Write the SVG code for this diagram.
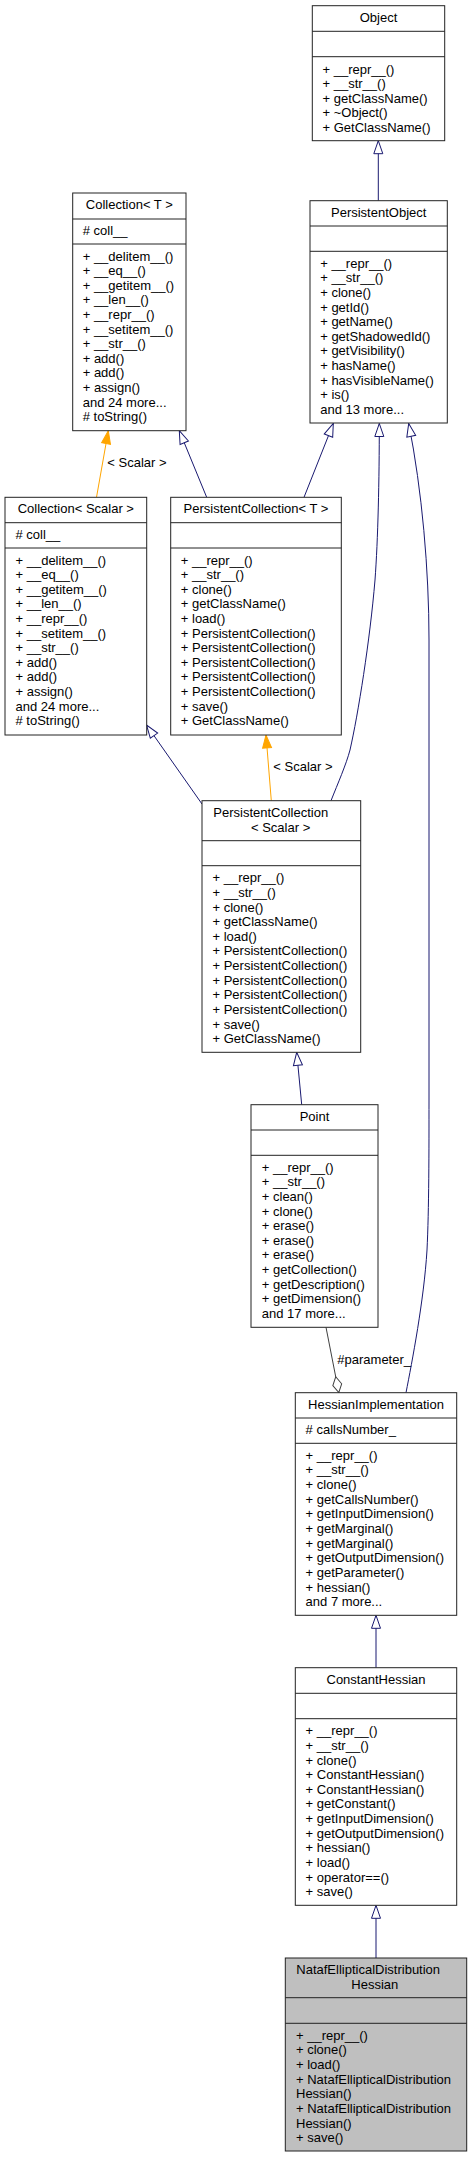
<svg xmlns="http://www.w3.org/2000/svg" width="472" height="2157" viewBox="0 0 472 2157">
<style>
.box{fill:#fff;stroke:#222;stroke-width:1}
.hl{fill:#bfbfbf}
.sep{stroke:#222;stroke-width:1}
text{font-family:"Liberation Sans",Arial,Helvetica,sans-serif;font-size:13px;fill:#000}
.c{text-anchor:middle}
.inh{stroke:#191970;stroke-width:1;fill:none}
.tpl{stroke:#ffa500;stroke-width:1;fill:none}
.agg{stroke:#404040;stroke-width:1;fill:none}
</style>
<defs>
<marker id="mInh" viewBox="0 0 13 10" refX="13" refY="5" markerWidth="13" markerHeight="10" markerUnits="userSpaceOnUse" orient="auto" overflow="visible">
<path d="M0,0.5 L13,5 L0,9.5 Z" fill="#fff" stroke="#191970" stroke-width="1"/>
</marker>
<marker id="mTpl" viewBox="0 0 13 10" refX="13" refY="5" markerWidth="13" markerHeight="10" markerUnits="userSpaceOnUse" orient="auto" overflow="visible">
<path d="M0,0.5 L13,5 L0,9.5 Z" fill="#ffa500" stroke="#ffa500" stroke-width="1"/>
</marker>
<marker id="mAgg" viewBox="0 0 16 10" refX="16" refY="5" markerWidth="16" markerHeight="10" markerUnits="userSpaceOnUse" orient="auto" overflow="visible">
<path d="M0,5 L8,0.5 L16,5 L8,9.5 Z" fill="#fff" stroke="#404040" stroke-width="1"/>
</marker>
</defs>

<g id="connectors">
<path class="inh" d="M378.3,200.7 L378.3,140.7" marker-end="url(#mInh)"/>
<path class="tpl" d="M96.5,497.3 L108.3,430.7" marker-end="url(#mTpl)"/>
<text x="107.3" y="467.2">&lt; Scalar &gt;</text>
<path class="inh" d="M206.7,497.3 L179.3,430.7" marker-end="url(#mInh)"/>
<path class="inh" d="M304,497.3 L333.3,423.5" marker-end="url(#mInh)"/>
<path class="inh" d="M331,800.7 C338,783 346,765 350,750 C358,715 370,640 375,580 C378,540 379.3,480 379.3,423.5" marker-end="url(#mInh)"/>
<path class="inh" d="M406,1392.7 C412,1362 424,1300 427,1250 C429,1210 429,1150 429,1100 L429,640 C429,570 422,490 408.7,423.5" marker-end="url(#mInh)"/>
<path class="inh" d="M202,804 L146.5,725" marker-end="url(#mInh)"/>
<path class="tpl" d="M271.3,800.7 L266,735" marker-end="url(#mTpl)"/>
<text x="273.3" y="771.2">&lt; Scalar &gt;</text>
<path class="inh" d="M301.7,1104.7 L296.7,1052.3" marker-end="url(#mInh)"/>
<path class="agg" d="M326,1327.3 L338.8,1392.5" marker-end="url(#mAgg)"/>
<text x="337.3" y="1363.8">#parameter_</text>
<path class="inh" d="M376,1667.7 L376,1615.3" marker-end="url(#mInh)"/>
<path class="inh" d="M376,1958 L376,1905.3" marker-end="url(#mInh)"/>
</g>

<g id="node-Object">
<rect class="box" x="312.3" y="5.7" width="132.4" height="135"/>
<line class="sep" x1="312.3" y1="31.3" x2="444.7" y2="31.3"/>
<line class="sep" x1="312.3" y1="56.7" x2="444.7" y2="56.7"/>
<text class="c" x="378.5" y="21.8">Object</text>
<text x="322.5" y="73.8">+ __repr__()</text>
<text x="322.5" y="88.2">+ __str__()</text>
<text x="322.5" y="102.7">+ getClassName()</text>
<text x="322.5" y="117.1">+ ~Object()</text>
<text x="322.5" y="131.5">+ GetClassName()</text>
</g>

<g id="node-PersistentObject">
<rect class="box" x="310" y="200.7" width="137.3" height="222.3"/>
<line class="sep" x1="310" y1="226" x2="447.3" y2="226"/>
<line class="sep" x1="310" y1="251.3" x2="447.3" y2="251.3"/>
<text class="c" x="378.7" y="216.8">PersistentObject</text>
<text x="320.2" y="267.8">+ __repr__()</text>
<text x="320.2" y="282.4">+ __str__()</text>
<text x="320.2" y="297">+ clone()</text>
<text x="320.2" y="311.6">+ getId()</text>
<text x="320.2" y="326.2">+ getName()</text>
<text x="320.2" y="340.8">+ getShadowedId()</text>
<text x="320.2" y="355.4">+ getVisibility()</text>
<text x="320.2" y="370">+ hasName()</text>
<text x="320.2" y="384.6">+ hasVisibleName()</text>
<text x="320.2" y="399.2">+ is()</text>
<text x="320.2" y="413.8">and 13 more...</text>
</g>

<g id="node-CollectionT">
<rect class="box" x="72.7" y="193" width="113.3" height="237.7"/>
<line class="sep" x1="72.7" y1="219" x2="186" y2="219"/>
<line class="sep" x1="72.7" y1="244" x2="186" y2="244"/>
<text class="c" x="129.3" y="208.5">Collection&lt; T &gt;</text>
<text x="82.7" y="235.2"># coll__</text>
<text x="82.7" y="260.5">+ __delitem__()</text>
<text x="82.7" y="275.1">+ __eq__()</text>
<text x="82.7" y="289.7">+ __getitem__()</text>
<text x="82.7" y="304.3">+ __len__()</text>
<text x="82.7" y="318.9">+ __repr__()</text>
<text x="82.7" y="333.5">+ __setitem__()</text>
<text x="82.7" y="348.1">+ __str__()</text>
<text x="82.7" y="362.7">+ add()</text>
<text x="82.7" y="377.3">+ add()</text>
<text x="82.7" y="391.9">+ assign()</text>
<text x="82.7" y="406.5">and 24 more...</text>
<text x="82.7" y="421.1"># toString()</text>
</g>

<g id="node-CollectionScalar">
<rect class="box" x="5" y="497.3" width="141.7" height="237.7"/>
<line class="sep" x1="5" y1="522.7" x2="146.7" y2="522.7"/>
<line class="sep" x1="5" y1="548" x2="146.7" y2="548"/>
<text class="c" x="75.8" y="512.8">Collection&lt; Scalar &gt;</text>
<text x="15.5" y="539.2"># coll__</text>
<text x="15.5" y="564.5">+ __delitem__()</text>
<text x="15.5" y="579.1">+ __eq__()</text>
<text x="15.5" y="593.7">+ __getitem__()</text>
<text x="15.5" y="608.3">+ __len__()</text>
<text x="15.5" y="622.9">+ __repr__()</text>
<text x="15.5" y="637.5">+ __setitem__()</text>
<text x="15.5" y="652.1">+ __str__()</text>
<text x="15.5" y="666.7">+ add()</text>
<text x="15.5" y="681.3">+ add()</text>
<text x="15.5" y="695.9">+ assign()</text>
<text x="15.5" y="710.5">and 24 more...</text>
<text x="15.5" y="725.1"># toString()</text>
</g>

<g id="node-PersistentCollectionT">
<rect class="box" x="170.7" y="497.3" width="170.6" height="237.7"/>
<line class="sep" x1="170.7" y1="522.7" x2="341.3" y2="522.7"/>
<line class="sep" x1="170.7" y1="548" x2="341.3" y2="548"/>
<text class="c" x="256" y="512.8">PersistentCollection&lt; T &gt;</text>
<text x="180.8" y="564.5">+ __repr__()</text>
<text x="180.8" y="579.1">+ __str__()</text>
<text x="180.8" y="593.7">+ clone()</text>
<text x="180.8" y="608.3">+ getClassName()</text>
<text x="180.8" y="622.9">+ load()</text>
<text x="180.8" y="637.5">+ PersistentCollection()</text>
<text x="180.8" y="652.1">+ PersistentCollection()</text>
<text x="180.8" y="666.7">+ PersistentCollection()</text>
<text x="180.8" y="681.3">+ PersistentCollection()</text>
<text x="180.8" y="695.9">+ PersistentCollection()</text>
<text x="180.8" y="710.5">+ save()</text>
<text x="180.8" y="725.1">+ GetClassName()</text>
</g>

<g id="node-PersistentCollectionScalar">
<rect class="box" x="202" y="800.7" width="158.7" height="251.6"/>
<line class="sep" x1="202" y1="840.7" x2="360.7" y2="840.7"/>
<line class="sep" x1="202" y1="865.7" x2="360.7" y2="865.7"/>
<text x="213.3" y="816.8">PersistentCollection</text>
<text x="251" y="831.6">&lt; Scalar &gt;</text>
<text x="212.5" y="882.2">+ __repr__()</text>
<text x="212.5" y="896.8">+ __str__()</text>
<text x="212.5" y="911.5">+ clone()</text>
<text x="212.5" y="926.1">+ getClassName()</text>
<text x="212.5" y="940.8">+ load()</text>
<text x="212.5" y="955.4">+ PersistentCollection()</text>
<text x="212.5" y="970">+ PersistentCollection()</text>
<text x="212.5" y="984.7">+ PersistentCollection()</text>
<text x="212.5" y="999.3">+ PersistentCollection()</text>
<text x="212.5" y="1014">+ PersistentCollection()</text>
<text x="212.5" y="1028.6">+ save()</text>
<text x="212.5" y="1043.2">+ GetClassName()</text>
</g>

<g id="node-Point">
<rect class="box" x="251" y="1104.7" width="127" height="222.6"/>
<line class="sep" x1="251" y1="1130" x2="378" y2="1130"/>
<line class="sep" x1="251" y1="1155.3" x2="378" y2="1155.3"/>
<text class="c" x="314.5" y="1121.2">Point</text>
<text x="261.8" y="1171.8">+ __repr__()</text>
<text x="261.8" y="1186.4">+ __str__()</text>
<text x="261.8" y="1201">+ clean()</text>
<text x="261.8" y="1215.6">+ clone()</text>
<text x="261.8" y="1230.2">+ erase()</text>
<text x="261.8" y="1244.8">+ erase()</text>
<text x="261.8" y="1259.4">+ erase()</text>
<text x="261.8" y="1274">+ getCollection()</text>
<text x="261.8" y="1288.6">+ getDescription()</text>
<text x="261.8" y="1303.2">+ getDimension()</text>
<text x="261.8" y="1317.8">and 17 more...</text>
</g>

<g id="node-HessianImplementation">
<rect class="box" x="295.3" y="1392.7" width="161.4" height="222.6"/>
<line class="sep" x1="295.3" y1="1418" x2="456.7" y2="1418"/>
<line class="sep" x1="295.3" y1="1443.3" x2="456.7" y2="1443.3"/>
<text class="c" x="376" y="1408.8">HessianImplementation</text>
<text x="305.6" y="1433.8"># callsNumber_</text>
<text x="305.6" y="1459.5">+ __repr__()</text>
<text x="305.6" y="1474.2">+ __str__()</text>
<text x="305.6" y="1488.8">+ clone()</text>
<text x="305.6" y="1503.5">+ getCallsNumber()</text>
<text x="305.6" y="1518.2">+ getInputDimension()</text>
<text x="305.6" y="1532.9">+ getMarginal()</text>
<text x="305.6" y="1547.5">+ getMarginal()</text>
<text x="305.6" y="1562.2">+ getOutputDimension()</text>
<text x="305.6" y="1576.9">+ getParameter()</text>
<text x="305.6" y="1591.5">+ hessian()</text>
<text x="305.6" y="1606.2">and 7 more...</text>
</g>

<g id="node-ConstantHessian">
<rect class="box" x="295.3" y="1667.7" width="161.4" height="237.6"/>
<line class="sep" x1="295.3" y1="1693.3" x2="456.7" y2="1693.3"/>
<line class="sep" x1="295.3" y1="1718.7" x2="456.7" y2="1718.7"/>
<text class="c" x="376" y="1683.8">ConstantHessian</text>
<text x="305.6" y="1735.2">+ __repr__()</text>
<text x="305.6" y="1749.8">+ __str__()</text>
<text x="305.6" y="1764.5">+ clone()</text>
<text x="305.6" y="1779.1">+ ConstantHessian()</text>
<text x="305.6" y="1793.8">+ ConstantHessian()</text>
<text x="305.6" y="1808.4">+ getConstant()</text>
<text x="305.6" y="1823">+ getInputDimension()</text>
<text x="305.6" y="1837.7">+ getOutputDimension()</text>
<text x="305.6" y="1852.3">+ hessian()</text>
<text x="305.6" y="1867">+ load()</text>
<text x="305.6" y="1881.6">+ operator==()</text>
<text x="305.6" y="1896.2">+ save()</text>
</g>

<g id="node-NatafEllipticalDistributionHessian">
<rect class="box hl" x="285.3" y="1958" width="181.4" height="193"/>
<line class="sep" x1="285.3" y1="1997.7" x2="466.7" y2="1997.7"/>
<line class="sep" x1="285.3" y1="2023.3" x2="466.7" y2="2023.3"/>
<text x="296.3" y="1974.2">NatafEllipticalDistribution</text>
<text x="351.3" y="1988.8">Hessian</text>
<text x="296" y="2039.5">+ __repr__()</text>
<text x="296" y="2054.2">+ clone()</text>
<text x="296" y="2068.8">+ load()</text>
<text x="296" y="2083.5">+ NatafEllipticalDistribution</text>
<text x="296" y="2098.2">Hessian()</text>
<text x="296" y="2112.9">+ NatafEllipticalDistribution</text>
<text x="296" y="2127.5">Hessian()</text>
<text x="296" y="2142.2">+ save()</text>
</g>
</svg>
